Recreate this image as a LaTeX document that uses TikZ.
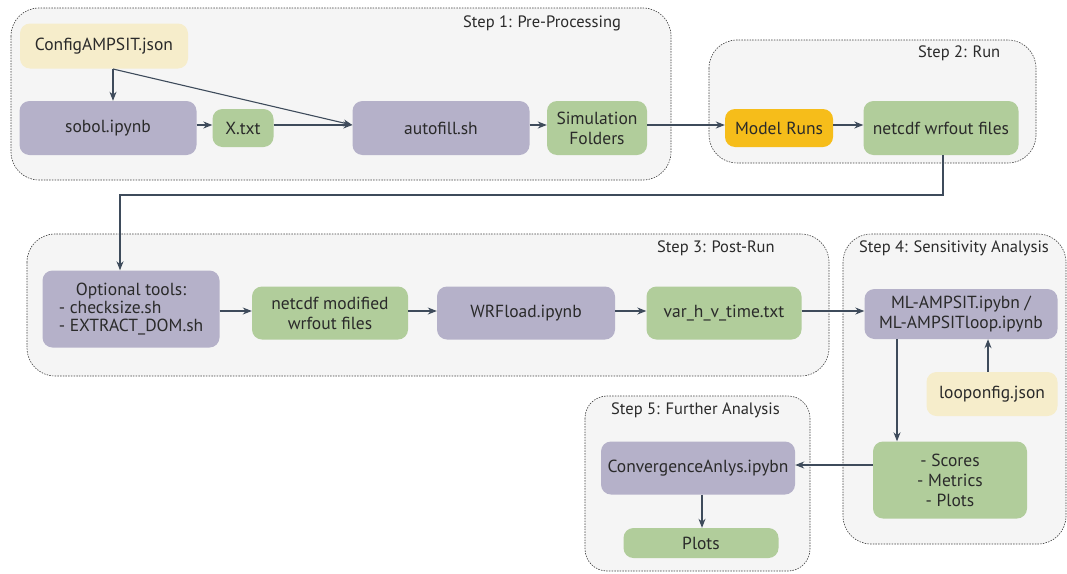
\documentclass[tikz,border=0pt]{standalone}
\usepackage{fontspec}
\setmainfont{PT Sans}
\usetikzlibrary{arrows.meta}
\definecolor{cyel}{HTML}{F6EDCB}
\definecolor{cpur}{HTML}{B5B1C9}
\definecolor{cgrn}{HTML}{B1CD9B}
\definecolor{corg}{HTML}{F6BD1A}
\definecolor{cgrp}{HTML}{F5F5F5}
\definecolor{cedge}{HTML}{3E4B5B}
\definecolor{ctxt}{HTML}{2A2A2A}
\tikzset{
  box/.style={rounded corners=10pt, inner sep=0pt, align=center, font=\fontsize{17.5}{20}\selectfont, text=ctxt},
  yel/.style={box, fill=cyel},
  pur/.style={box, fill=cpur},
  grn/.style={box, fill=cgrn},
  org/.style={box, fill=corg},
  grp/.style={draw=black!75, fill=cgrp, dash pattern=on 1.5pt off 1.2pt, line width=0.6pt, rounded corners=28pt},
  grplabel/.style={font=\fontsize{16.5}{19}\selectfont, text=ctxt, inner sep=0pt},
  conn/.style={draw=cedge, line width=1.1pt, -{Stealth[length=9pt,width=7pt]}},
}
\begin{document}
\begin{tikzpicture}[x=1pt,y=-1pt]
\useasboundingbox (0,0) rectangle (1067,573);
% groups
\draw[grp] (11,8) rectangle (671,180);
\node[grplabel, anchor=west] (g1) at (463,23) {Step 1: Pre-Processing};
\draw[grp] (709,40) rectangle (1036,163);
\node[grplabel, anchor=west] (g2) at (918,53) {Step 2: Run};
\draw[grp] (27,234) rectangle (829,376);
\node[grplabel, anchor=west] (g3) at (657,248) {Step 3: Post-Run};
\draw[grp] (843,234) rectangle (1066,544);
\node[grplabel, anchor=west] (g4) at (859,248) {Step 4: Sensitivity Analysis};
\draw[grp, rounded corners=22pt] (585,396) rectangle (810,571);
\node[grplabel, anchor=west] (g5) at (611,410) {Step 5: Further Analysis};
% nodes
\node[yel, minimum width=168pt, minimum height=45pt] (cfg) at (104,46) {ConfigAMPSIT.json};
\node[pur, minimum width=177pt, minimum height=54pt] (sobol) at (108,128) {sobol.ipynb};
\node[grn, minimum width=61pt, minimum height=38pt] (xtxt) at (243,128) {X.txt};
\node[pur, minimum width=177pt, minimum height=54pt] (auto) at (441,128) {autofill.sh};
\node[grn, minimum width=100pt, minimum height=54pt] (sim) at (597,128) {Simulation\\Folders};
\node[org, minimum width=108pt, minimum height=38pt] (model) at (779,128) {Model Runs};
\node[grn, minimum width=155pt, minimum height=54pt] (wrf) at (941,128) {netcdf wrfout files};
\node[pur, minimum width=177pt, minimum height=77pt] (opt) at (131,309) {\begin{tabular}{@{}l@{}}\multicolumn{1}{@{}c@{}}{Optional tools:}\\[-2pt]- checksize.sh\\[-2pt]- EXTRACT\_DOM.sh\end{tabular}};
\node[grn, minimum width=156pt, minimum height=53pt] (mod) at (330,313) {netcdf modified\\wrfout files};
\node[pur, minimum width=178pt, minimum height=53pt] (load) at (526,313) {WRFload.ipynb};
\node[grn, minimum width=155pt, minimum height=53pt] (var) at (724,313) {var\_h\_v\_time.txt};
\node[pur, minimum width=193pt, minimum height=50pt] (ml) at (961,314) {ML-AMPSIT.ipybn /\\ML-AMPSITloop.ipynb};
\node[yel, minimum width=131pt, minimum height=44pt] (loop) at (992,394) {looponfig.json};
\node[grn, minimum width=154pt, minimum height=77pt] (scores) at (950,480) {- Scores\\- Metrics\\- Plots};
\node[pur, minimum width=194pt, minimum height=53pt] (conv) at (698,468) {ConvergenceAnlys.ipybn};
\node[grn, minimum width=155pt, minimum height=30pt] (plots) at (701,543) {Plots};
% connectors
\coordinate (cfgb) at (113,69);
\draw[conn] (cfgb) -- (cfgb |- sobol.north);
\draw[conn] (cfgb) -- ([yshift=3pt]auto.west);
\draw[conn] ([yshift=3pt]sobol.east) -- ([yshift=3pt]xtxt.west);
\draw[conn] ([yshift=3pt]xtxt.east) -- ([yshift=3pt]auto.west);
\draw[conn] ([yshift=3pt]auto.east) -- ([yshift=3pt]sim.west);
\draw[conn] ([yshift=3pt]sim.east) -- ([yshift=3pt]model.west);
\draw[conn] ([yshift=3pt]model.east) -- ([yshift=3pt]wrf.west);
\coordinate (wb) at (943,155);
\coordinate (c1) at (943,195);
\coordinate (c2) at (120,195);
\draw[conn] (wb) -- (c1) -- (c2) -- (c2 |- opt.north);
\draw[conn] (opt.east |- 0,311) -- (mod.west |- 0,311);
\draw[conn] (mod.east |- 0,311) -- (load.west |- 0,311);
\draw[conn] (load.east |- 0,311) -- (var.west |- 0,311);
\draw[conn] (var.east |- 0,311) -- (ml.west |- 0,311);
\draw[conn] (ml.south -| 897,0) -- (scores.north -| 897,0);
\draw[conn] (loop.north -| 988,0) -- (ml.south -| 988,0);
\draw[conn] (scores.west |- 0,465) -- (conv.east |- 0,465);
\draw[conn] (conv.south -| 702,0) -- (plots.north -| 702,0);
\end{tikzpicture}
\end{document}
